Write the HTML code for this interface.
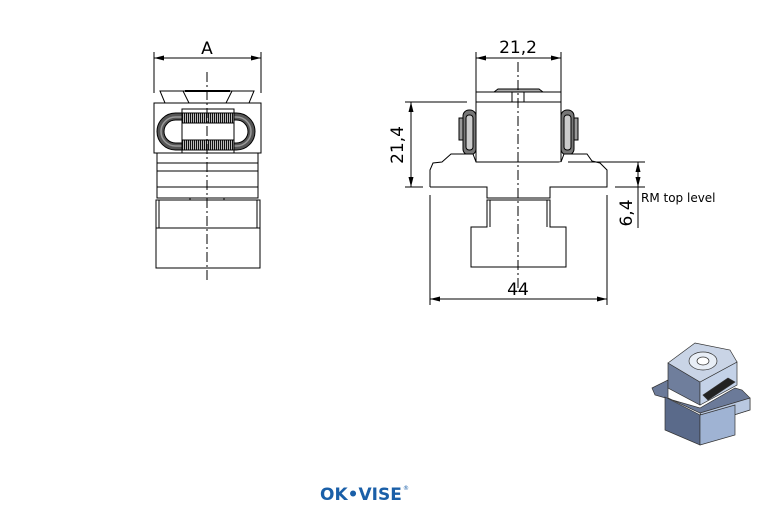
<!DOCTYPE html>
<html><head><meta charset="utf-8"><style>
html,body{margin:0;padding:0;background:#fff}
svg{display:block}
text{font-family:"DejaVu Sans","Liberation Sans",sans-serif}
</style></head><body>
<svg width="774" height="517" viewBox="0 0 774 517" xmlns="http://www.w3.org/2000/svg">
<defs>
<marker id="ar" markerWidth="10" markerHeight="6" refX="10" refY="3" orient="auto-start-reverse" markerUnits="userSpaceOnUse"><path d="M0,0.5 L10,3 L0,5.5 z" fill="#000"/></marker>
<pattern id="coil" width="2" height="4" patternUnits="userSpaceOnUse"><rect width="2" height="4" fill="#bbb"/><rect width="1" height="4" fill="#111"/></pattern>
</defs>
<g stroke="#000" stroke-width="1" fill="none">
<!-- LEFT VIEW -->
<line x1="154" y1="52" x2="154" y2="93"/><line x1="261" y1="52" x2="261" y2="93"/>
<line x1="154" y1="58" x2="261" y2="58" marker-start="url(#ar)" marker-end="url(#ar)"/>
<path d="M160,91 L254,91 L249,103 L165,103 Z" fill="#fff"/>
<line x1="183" y1="91" x2="189" y2="103"/><line x1="232" y1="91" x2="226" y2="103"/>
<line x1="185" y1="91" x2="230" y2="91" stroke-width="2"/>
<rect x="154" y="103" width="107" height="50" fill="#fff"/>
<rect x="157" y="113" width="98" height="37" rx="18.5" fill="#555" stroke="#000"/>
<rect x="161" y="117" width="90" height="29" rx="14.5" fill="none" stroke="#999" stroke-width="1.5"/>
<rect x="164" y="120" width="84" height="23" rx="11.5" fill="#fff"/>
<rect x="182" y="109" width="52" height="44" fill="#fff"/>
<rect x="182" y="113" width="52" height="10" fill="url(#coil)" stroke="#000"/>
<rect x="182" y="140" width="52" height="10" fill="url(#coil)" stroke="#000"/>
<rect x="157" y="153" width="101" height="10" fill="#fff"/>
<rect x="157" y="163" width="101" height="35" fill="#fff"/>
<line x1="157" y1="171" x2="258" y2="171"/><line x1="157" y1="187" x2="258" y2="187"/>
<rect x="156" y="200" width="104" height="68" fill="#fff"/>
<line x1="156" y1="228" x2="260" y2="228"/>
<line x1="159" y1="200" x2="159" y2="228"/><line x1="257" y1="200" x2="257" y2="228"/>
<line x1="190" y1="198" x2="190" y2="200"/><line x1="224" y1="198" x2="224" y2="200"/>
<line x1="207" y1="72" x2="207" y2="280" stroke-dasharray="10,3,2,3"/>

<!-- RIGHT VIEW -->
<line x1="476" y1="52" x2="476" y2="92"/><line x1="561" y1="52" x2="561" y2="92"/>
<line x1="476" y1="58" x2="561" y2="58" marker-start="url(#ar)" marker-end="url(#ar)"/>
<path d="M494,92 L498,89 L539,89 L543,92" fill="#aaa"/>
<rect x="476" y="92" width="85" height="10" fill="#fff"/>
<line x1="512" y1="92" x2="512" y2="102"/><line x1="524" y1="92" x2="524" y2="102"/>
<rect x="476" y="102" width="85" height="60" fill="#fff"/>
<g fill="#777">
<rect x="459" y="118" width="5" height="22" fill="#999"/>
<rect x="463" y="110" width="13" height="45" rx="6"/>
<rect x="466" y="115" width="7" height="35" rx="3" fill="#ccc"/>
<rect x="573" y="118" width="5" height="22" fill="#999"/>
<rect x="561" y="110" width="13" height="45" rx="6"/>
<rect x="564" y="115" width="7" height="35" rx="3" fill="#ccc"/>
</g>
<path d="M430,187 L430,170 L433,163 L442,162 L451,154 L473,154 L476,162 M561,162 L564,154 L587,154 L592,161 L600,163 L607,170 L607,187 L550,187 L550,198 L487,198 L487,187 L430,187" fill="#fff"/>
<line x1="568" y1="162" x2="645" y2="162"/>
<path d="M487,200 L550,200 L550,227 L566,227 L566,267 L471,267 L471,227 L487,227 Z" fill="#fff"/>
<line x1="490" y1="200" x2="490" y2="227"/><line x1="547" y1="200" x2="547" y2="227"/>
<line x1="518" y1="62" x2="518" y2="292" stroke-dasharray="10,3,2,3"/>
<line x1="405" y1="102" x2="467" y2="102"/><line x1="405" y1="187" x2="423" y2="187"/>
<line x1="411" y1="102" x2="411" y2="187" marker-start="url(#ar)" marker-end="url(#ar)"/>
<line x1="615" y1="187" x2="645" y2="187"/>
<line x1="638" y1="162" x2="638" y2="187" marker-start="url(#ar)" marker-end="url(#ar)"/>
<line x1="638" y1="187" x2="638" y2="228"/>
<line x1="430" y1="195" x2="430" y2="305"/><line x1="607" y1="195" x2="607" y2="305"/>
<line x1="430" y1="299" x2="607" y2="299" marker-start="url(#ar)" marker-end="url(#ar)"/>
</g>
<g font-size="17" fill="#000" text-anchor="middle">
<text x="207" y="54">A</text>
<text x="518" y="53">21,2</text>
<text x="518" y="295">44</text>
<text transform="translate(403,145) rotate(-90)">21,4</text>
<text transform="translate(632,213) rotate(-90)">6,4</text>
</g>
<text x="641" y="202" font-size="12" fill="#000" font-family="Liberation Sans,sans-serif">RM top level</text>

<g stroke="#333" stroke-width="0.7">
<path d="M652,388 L668,380 L668,398 L700,413 L705,424 L750,410 L750,398 L742,390 L735,388 L700,408 L655,395 Z" fill="#6b7a99"/>
<path d="M700,413 L705,424 L750,410 L750,398 Z" fill="#b9c8e0"/>
<path d="M665,397 L700,415 L700,445 L665,430 Z" fill="#5a6a8a"/>
<path d="M700,415 L735,405 L735,435 L700,445 Z" fill="#9fb3d3"/>
<path d="M668,363 L700,382 L700,405 L668,388 Z" fill="#6f7e9c"/>
<path d="M700,382 L737,362 L737,385 L700,405 Z" fill="#c4d2e8"/>
<path d="M668,363 L695,343 L730,350 L737,362 L700,382 Z" fill="#c9d4e6"/>
<ellipse cx="703" cy="361" rx="14" ry="9" fill="#e8eef6"/>
<ellipse cx="703" cy="361" rx="6" ry="4" fill="#fff"/>
<path d="M703,395 L728,378 L735,382 L708,400 Z" fill="#222"/>
</g>
<text x="320" y="500" font-size="17" font-weight="bold" fill="#1a5fa8" font-family="Liberation Sans,sans-serif">OK•VISE</text>
<text x="403" y="490" font-size="6" fill="#1a5fa8">®</text>
</svg>
</body></html>
